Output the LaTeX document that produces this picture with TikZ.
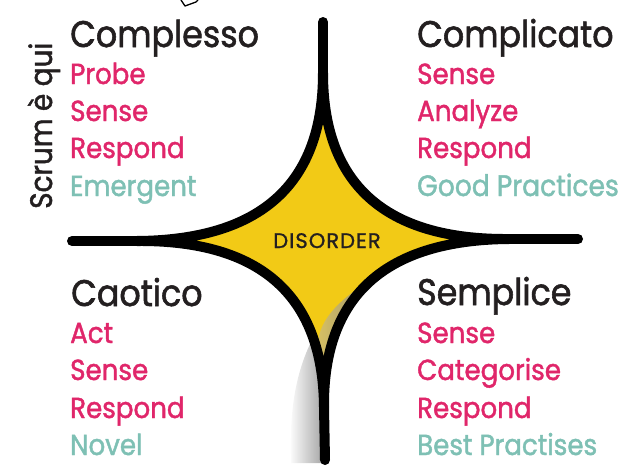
\documentclass[tikz,border=0pt]{standalone}
\usepackage{fontspec}
\setmainfont{Poppins}[FakeStretch=0.9,FakeBold=1.5]
\newfontfamily\disfont{Poppins}[LetterSpace=5,FakeBold=1.2]
\definecolor{ink}{RGB}{35,31,32}
\definecolor{pinkc}{RGB}{224,38,106}
\definecolor{tealc}{RGB}{126,192,180}
\definecolor{yel}{RGB}{242,202,22}
\definecolor{tanc}{RGB}{205,188,125}
\definecolor{tand}{RGB}{160,150,110}
\begin{document}
\begin{tikzpicture}[x=1pt,y=-1pt,
  head/.style={anchor=base west,inner sep=0pt,text=ink,font=\fontsize{37}{37}\selectfont},
  act/.style={anchor=base west,inner sep=0pt,text=pinkc,font=\fontsize{29}{29}\selectfont},
  kind/.style={anchor=base west,inner sep=0pt,text=tealc,font=\fontsize{29}{29}\selectfont},
  outline/.style={line width=10pt,line cap=round,line join=round,draw=black}]
\useasboundingbox (0,0) rectangle (627,466);
% key points
\coordinate (T) at (323,73);
\coordinate (L) at (137,241);
\coordinate (R) at (509,239);
\coordinate (B) at (324,407);
\coordinate (Tt) at (323,22);
\coordinate (Lt) at (72,241);
\coordinate (Rt) at (578,239);
\coordinate (Bt) at (325,460);
% yellow body
\fill[yel] (T) .. controls (323,184) and (261,240) .. (L)
  .. controls (261,240) and (323,296) .. (B)
  .. controls (323,296) and (385,240) .. (R)
  .. controls (385,240) and (323,184) .. (T) -- cycle;
% gray shadow
\shade[left color=white,right color=black!35] (312,340) .. controls (296,372) and (289,410) .. (291,463) -- (323,463) -- (321,352) -- cycle;
% tan fold
\shade[left color=tanc!75!yel,right color=tand] (368,282) .. controls (345,296) and (318,318) .. (318,345) -- (324,363) -- (331,347) -- (346,311) -- cycle;
% outline
\draw[outline] (T) .. controls (323,184) and (261,240) .. (L)
  .. controls (261,240) and (323,296) .. (B)
  .. controls (323,296) and (385,240) .. (R)
  .. controls (385,240) and (323,184) .. (T);
\draw[outline] (Tt) -- (T);
\draw[outline] (Lt) -- (L);
\draw[outline] (Rt) -- (R);
\draw[outline] (Bt) -- (B);
\node[anchor=base,inner sep=0pt,text=ink,font=\disfont\fontsize{21}{21}\selectfont] (dis) at (327,248) {DISORDER};
% small pencil fragment
\draw[line width=1.3pt,line join=round] (181,0) -- (185,6) -- (196,2) -- (198,0);
% Complesso
\node[head] (h1) at (70,47) {Complesso};
\node[act] (a11) at (70,84) {Probe};
\node[act] (a12) at (70,121) {Sense};
\node[act] (a13) at (70,158) {Respond};
\node[kind] (k1) at (70,196) {Emergent};
\node[rotate=90,anchor=base west,inner sep=0pt,text=ink,font=\fontsize{31}{31}\selectfont] (scrum) at (52,209) {Scrum è qui};
% Complicato
\node[head] (h2) at (417,47) {Complicato};
\node[act] (a21) at (417,84) {Sense};
\node[act] (a22) at (417,121) {Analyze};
\node[act] (a23) at (417,158) {Respond};
\node[kind,font=\fontsize{29.5}{29.5}\selectfont] (k2) at (417,196) {Good Practices};
% Caotico
\node[head] (h3) at (71,306) {Caotico};
\node[act] (a31) at (70,343) {Act};
\node[act] (a32) at (70,380) {Sense};
\node[act] (a33) at (70,418) {Respond};
\node[kind] (k3) at (70,455) {Novel};
% Semplice
\node[head] (h4) at (417,305) {Semplice};
\node[act] (a41) at (417,343) {Sense};
\node[act] (a42) at (417,380) {Categorise};
\node[act] (a43) at (417,418) {Respond};
\node[kind] (k4) at (417,455) {Best Practises};
\end{tikzpicture}
\end{document}
